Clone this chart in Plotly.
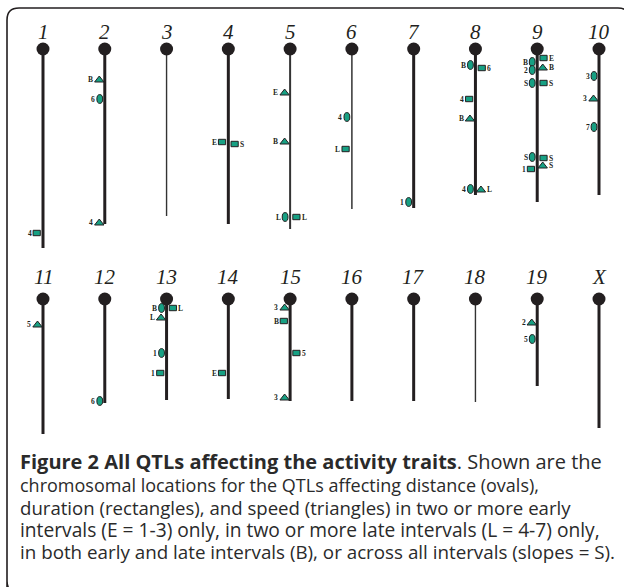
import plotly.graph_objects as go

# ---------------- data ----------------
chrom_names = ['1', '2', '3', '4', '5', '6', '7', '8', '9', '10',
               '11', '12', '13', '14', '15', '16', '17', '18', '19', 'X']
# length of each chromosome drawn below its centromere (relative units)
chrom_length = [199, 175, 167, 175, 180, 160, 159, 146, 153, 146,
                135, 104, 101, 100, 102, 102, 102, 103, 87, 129]

# QTLs: chromosome, position below centromere, trait, side of chromosome, label
qtl_chrom = ['1',
             '2', '2', '2',
             '4', '4',
             '5', '5', '5', '5',
             '6', '6',
             '7',
             '8', '8', '8', '8', '8', '8',
             '9', '9', '9', '9', '9', '9', '9', '9', '9', '9',
             '10', '10', '10',
             '11',
             '12',
             '13', '13', '13', '13', '13',
             '14',
             '15', '15', '15', '15',
             '19', '19']
qtl_pos = [184,
           30, 50, 173,
           93, 95,
           43, 92, 168, 168,
           68, 100,
           153,
           16, 19, 50, 69, 140, 140,
           9, 13, 21, 18, 34, 34, 108, 109, 116, 120,
           27, 49, 78,
           25,
           102,
           9, 9, 18, 54, 74,
           74,
           8, 22, 54, 98,
           23, 40]
qtl_trait = ['duration',
             'speed', 'distance', 'speed',
             'duration', 'duration',
             'speed', 'speed', 'distance', 'duration',
             'distance', 'duration',
             'distance',
             'distance', 'duration', 'duration', 'speed', 'distance', 'speed',
             'duration', 'distance', 'distance', 'speed', 'distance', 'duration',
             'distance', 'duration', 'speed', 'duration',
             'distance', 'speed', 'distance',
             'speed',
             'distance',
             'distance', 'duration', 'speed', 'distance', 'duration',
             'duration',
             'speed', 'duration', 'duration', 'speed',
             'speed', 'distance']
qtl_side = ['L',
            'L', 'L', 'L',
            'L', 'R',
            'L', 'L', 'L', 'R',
            'L', 'L',
            'L',
            'L', 'R', 'L', 'L', 'L', 'R',
            'R', 'L', 'L', 'R', 'L', 'R', 'L', 'R', 'R', 'L',
            'L', 'L', 'L',
            'L',
            'L',
            'L', 'R', 'L', 'L', 'L',
            'L',
            'L', 'L', 'R', 'L',
            'L', 'L']
qtl_label = ['4',
             'B', '6', '4',
             'E', 'S',
             'E', 'B', 'L', 'L',
             '4', 'L',
             '1',
             'B', '6', '4', 'B', '4', 'L',
             'E', 'B', '2', 'B', 'S', 'S', 'S', 'S', 'S', '1',
             '3', '3', '7',
             '5',
             '6',
             'B', 'L', 'L', '1', '1',
             'E',
             '3', 'B', '5', '3',
             '2', '5']

caption_lines = [
    "<b>Figure 2 All QTLs affecting the activity traits</b>. Shown are the",
    "chromosomal locations for the QTLs affecting distance (ovals),",
    "duration (rectangles), and speed (triangles) in two or more early",
    "intervals (E = 1-3) only, in two or more late intervals (L = 4-7) only,",
    "in both early and late intervals (B), or across all intervals (slopes = S).",
]

# ---------------- styling ----------------
W, H = 624, 587
DARK = '#231f20'
GREEN = '#17a083'
PER_ROW = 10
ROW_CENTRO_PX = [49, 299]        # screen position of centromeres per row
COL0_PX, COL9_PX = 43, 599
thin = {'3': 1.4, '5': 2.0, '6': 1.5, '18': 1.4}
caption_sizes = [20.0, 18.0, 18.6, 19.2, 18.8]

span = (PER_ROW - 1) * W / (COL9_PX - COL0_PX)
x0 = -COL0_PX * span / W
xrange_ = [x0, x0 + span]

def yrange(row):
    c = ROW_CENTRO_PX[row]
    return [H - c, -c]

fig = go.Figure()

idx = {n: i for i, n in enumerate(chrom_names)}
yref = ['y', 'y2']

# chromosome lines and centromeres
for i, name in enumerate(chrom_names):
    row, col = divmod(i, PER_ROW)
    fig.add_trace(go.Scatter(
        x=[col, col], y=[0, chrom_length[i]], mode='lines',
        line=dict(color=DARK if name not in thin else '#333333',
                  width=thin.get(name, 3.0)),
        yaxis=yref[row], hoverinfo='skip', showlegend=False))
for row in range(2):
    cols = [i % PER_ROW for i in range(len(chrom_names)) if i // PER_ROW == row]
    fig.add_trace(go.Scatter(
        x=cols, y=[0] * len(cols), mode='markers',
        marker=dict(size=13, color=DARK, line=dict(width=0)),
        yaxis=yref[row], hoverinfo='skip', showlegend=False))

# chromosome titles
title_shift = [17, 22]
annotations = []
for i, name in enumerate(chrom_names):
    row, col = divmod(i, PER_ROW)
    annotations.append(dict(
        x=col, y=0, xref='x', yref=yref[row], yshift=title_shift[row],
        text='<i>%s</i>' % name, showarrow=False,
        font=dict(family='Liberation Serif', size=21, color=DARK),
        xanchor='center', yanchor='middle'))

# QTL marks
half = {'distance': (2.9, 4.4), 'duration': (3.6, 2.7), 'speed': (4.7, 3.0)}
offset = {'distance': 5.0, 'duration': 6.3, 'speed': 5.5}
gap = 1.5
shapes = []
for c, p, t, s, lab in zip(qtl_chrom, qtl_pos, qtl_trait, qtl_side, qtl_label):
    i = idx[c]
    row, col = divmod(i, PER_ROW)
    hw, hh = half[t]
    sgn = -1 if s == 'L' else 1
    cx = sgn * offset[t]
    common = dict(xref='x', yref=yref[row], xsizemode='pixel', ysizemode='pixel',
                  xanchor=col, yanchor=p, fillcolor=GREEN,
                  line=dict(color=DARK, width=1), layer='above')
    if t == 'distance':
        shapes.append(dict(type='circle', x0=cx - hw, x1=cx + hw, y0=-hh, y1=hh, **common))
    elif t == 'duration':
        shapes.append(dict(type='rect', x0=cx - hw, x1=cx + hw, y0=-hh, y1=hh, **common))
    else:
        path = 'M%.2f,%.2f L%.2f,%.2f L%.2f,%.2f Z' % (cx - hw, -hh, cx + hw, -hh, cx, hh)
        shapes.append(dict(type='path', path=path, **common))
    annotations.append(dict(
        x=col, y=p, xref='x', yref=yref[row],
        xshift=sgn * (offset[t] + hw + gap), text='<b>%s</b>' % lab, showarrow=False,
        font=dict(family='Liberation Serif', size=7.5, color=DARK),
        xanchor='right' if s == 'L' else 'left', yanchor='middle',
        borderpad=0, borderwidth=0))

# caption
cap_y0, cap_dy = 462, 22.6
for k, line in enumerate(caption_lines):
    annotations.append(dict(
        x=18 / W, y=1 - (cap_y0 + k * cap_dy) / H, xref='paper', yref='paper',
        text=line, showarrow=False, xanchor='left', yanchor='middle',
        font=dict(family='Open Sans', size=caption_sizes[k], color='#2a2a2a')))

# outer rounded frame
def P(px, py):
    return '%.5f,%.5f' % (px / W, 1 - py / H)
r = 12
L, T, R, B = 7, 8, 630, 593
frame = ('M' + P(L, B + 20) + ' L' + P(L, T + r) + ' Q' + P(L, T) + ' ' + P(L + r, T) +
         ' L' + P(R - r, T) + ' Q' + P(R, T) + ' ' + P(R, T + r) + ' L' + P(R, B - r) +
         ' Q' + P(R, B) + ' ' + P(R - r, B) + ' L' + P(L + r, B) + ' Q' + P(L, B) + ' ' + P(L, B - r) + ' Z')
shapes.append(dict(type='path', xref='paper', yref='paper', path=frame,
                   line=dict(color=DARK, width=1.6), layer='below'))

fig.update_layout(
    width=W, height=H, margin=dict(l=0, r=0, t=0, b=0),
    paper_bgcolor='white', plot_bgcolor='white',
    xaxis=dict(range=xrange_, visible=False, fixedrange=True),
    yaxis=dict(range=yrange(0), visible=False, fixedrange=True),
    yaxis2=dict(range=yrange(1), visible=False, overlaying='y', fixedrange=True),
    shapes=shapes, annotations=annotations, showlegend=False)

fig.write_html("out.html", config={'displayModeBar': False},
               post_script="document.body.style.margin='0';document.body.style.overflow='hidden';")
